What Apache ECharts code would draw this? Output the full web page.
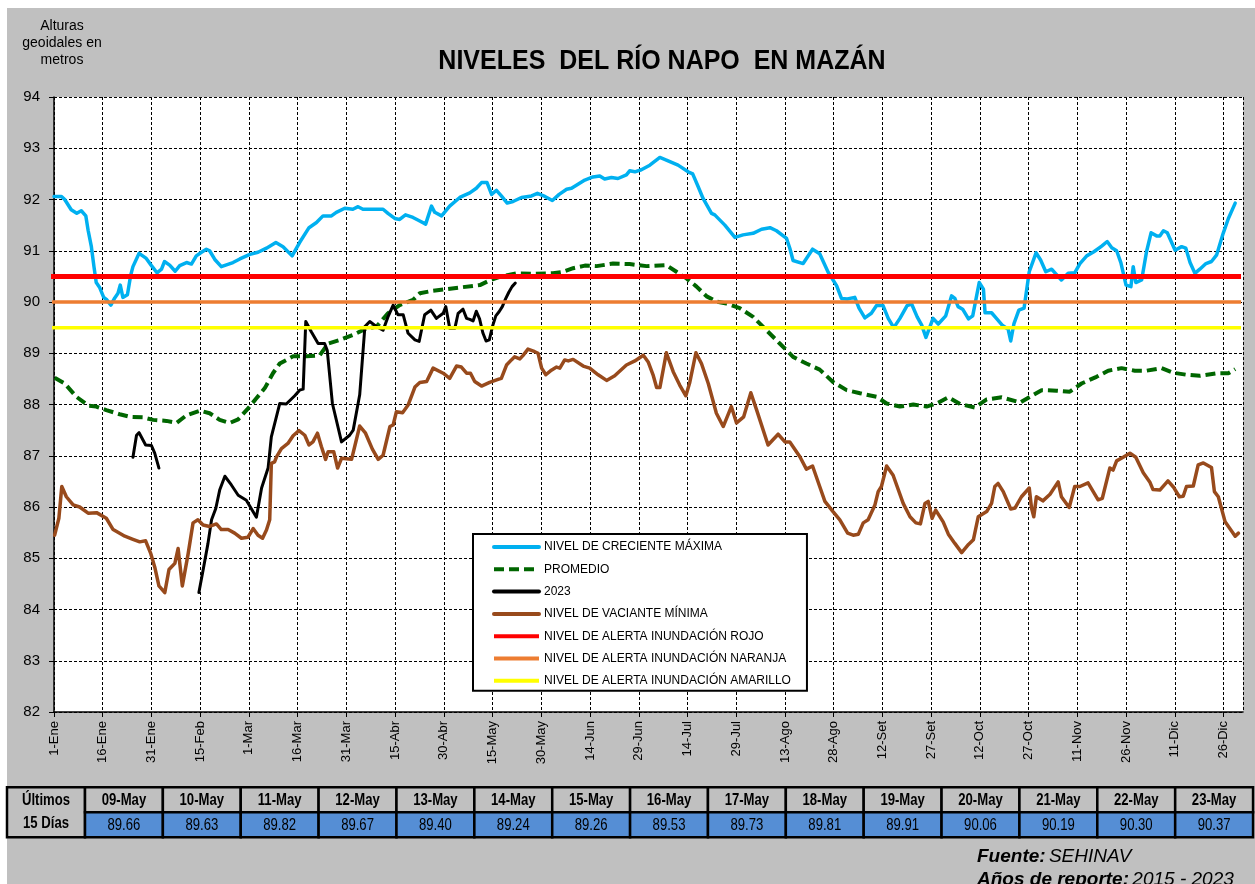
<!DOCTYPE html>
<html>
<head>
<meta charset="utf-8">
<script src="https://cdn.jsdelivr.net/npm/echarts@6/dist/echarts.min.js"></script>
<style>html,body{margin:0;padding:0;background:#fff}#c{width:1255px;height:884px}</style>
</head>
<body>
<div id="c"></div>
<script>
// ---------- DATA ----------
const tickLabels = ['1-Ene','16-Ene','31-Ene','15-Feb','1-Mar','16-Mar','31-Mar','15-Abr','30-Abr','15-May','30-May','14-Jun','29-Jun','14-Jul','29-Jul','13-Ago','28-Ago','12-Set','27-Set','12-Oct','27-Oct','11-Nov','26-Nov','11-Dic','26-Dic'];

const seriesNames = ['NIVEL DE CRECIENTE MÁXIMA','PROMEDIO','2023','NIVEL DE VACIANTE MÍNIMA','NIVEL DE ALERTA INUNDACIÓN ROJO','NIVEL DE ALERTA INUNDACIÓN NARANJA','NIVEL DE ALERTA INUNDACIÓN AMARILLO'];

// [day of year (0 = 1-Ene), level m]
const maxLevels = [[0,92.06],[2.3,92.06],[3.3,92.0],[5.3,91.8],[7,91.73],[8.4,91.78],[9.8,91.68],[10.5,91.4],[11.5,91.08],[12.3,90.69],[13,90.38],[14,90.29],[15.3,90.09],[16.3,90.04],[17.5,89.94],[18.7,90.08],[19.7,90.17],[20.4,90.33],[21.2,90.09],[22.6,90.14],[23.6,90.52],[24.3,90.69],[26.2,90.95],[28.4,90.85],[30,90.71],[31.7,90.57],[33.1,90.64],[34,90.79],[35.6,90.72],[37.3,90.6],[38.7,90.71],[40.8,90.77],[42.3,90.74],[43.8,90.9],[45.4,90.97],[46.9,91.03],[47.9,91.0],[49.5,90.83],[51.5,90.69],[55.1,90.77],[57.2,90.84],[60.3,90.93],[62.8,90.97],[65.4,91.05],[68.3,91.16],[70.5,91.08],[73.3,90.9],[75.6,91.16],[78.5,91.45],[80.8,91.55],[82.8,91.68],[85.4,91.68],[86.9,91.75],[89.5,91.83],[92,91.81],[93.6,91.86],[95.1,91.81],[101.3,91.81],[102.8,91.73],[104.9,91.63],[106.4,91.61],[108.2,91.7],[110.5,91.65],[112.6,91.58],[114.4,91.52],[116.2,91.87],[117.2,91.75],[119.3,91.68],[121.8,91.87],[124.9,92.04],[128,92.13],[130,92.22],[131.6,92.33],[133.3,92.33],[134.7,92.1],[136.2,92.18],[137.7,92.07],[139.5,91.93],[141.3,91.96],[143.9,92.04],[147,92.07],[148.8,92.12],[151.1,92.06],[153.4,91.98],[155.5,92.1],[157.8,92.2],[159.3,92.22],[160.8,92.28],[163.4,92.38],[165.9,92.44],[168,92.46],[169.5,92.4],[171.6,92.43],[173.6,92.41],[176.2,92.48],[177.2,92.56],[178.8,92.54],[180.8,92.58],[183.4,92.67],[186.5,92.82],[188.5,92.77],[192.1,92.67],[195.2,92.54],[196.6,92.5],[198.3,92.25],[199.8,92.02],[202.4,91.73],[203.4,91.7],[206.5,91.5],[209.6,91.26],[212.1,91.31],[215.2,91.34],[217.8,91.42],[220.4,91.45],[222.4,91.39],[225.5,91.24],[226.5,91.05],[227.5,90.81],[230.6,90.75],[233.5,91.03],[235.7,90.94],[238.3,90.58],[240.9,90.32],[242.4,90.07],[244.2,90.06],[246.5,90.09],[247.8,89.88],[249.6,89.69],[251.6,89.78],[253.2,89.93],[255.2,89.93],[256.8,89.68],[258.5,89.5],[260.4,89.68],[262.6,89.93],[264,89.96],[265.7,89.71],[267.1,89.55],[268.4,89.31],[270.6,89.68],[272.2,89.57],[274.5,89.73],[276.3,90.12],[277.3,90.07],[278.3,89.91],[279.7,89.86],[281.5,89.67],[282.8,89.73],[284.8,90.38],[286.1,90.25],[286.6,89.79],[288.6,89.79],[290.1,89.68],[292,89.54],[293.7,89.47],[294.5,89.24],[295.5,89.58],[297,89.84],[298.6,89.88],[300.2,90.59],[302.3,90.96],[303.7,90.82],[305.3,90.59],[307.1,90.64],[308.4,90.55],[310.1,90.43],[312.2,90.56],[314.2,90.57],[315.8,90.75],[317.9,90.9],[320.1,90.98],[322.5,91.09],[324.2,91.18],[325.6,91.06],[327.1,91.0],[328.4,90.77],[330,90.33],[331.5,90.3],[332.2,90.69],[333,90.38],[334.8,90.43],[336.3,90.98],[337.7,91.35],[339.4,91.29],[340.4,91.29],[341.5,91.39],[342.7,91.35],[345.1,91.01],[347.1,91.08],[348.4,91.05],[349.7,90.77],[351.2,90.56],[352.7,90.64],[354.6,90.75],[356.3,90.79],[357.9,90.92],[359.9,91.34],[361.5,91.63],[363.6,91.93]];

const avgLevels = [[0.2,88.52],[3.3,88.41],[6.9,88.15],[10.5,87.98],[13,87.96],[16.1,87.89],[20.2,87.81],[23.3,87.76],[27.4,87.75],[30.5,87.7],[34.6,87.68],[37.7,87.64],[40.8,87.79],[44.9,87.88],[47.9,87.83],[51,87.7],[54.1,87.64],[56.7,87.71],[59.7,87.92],[62.3,88.12],[64.9,88.32],[67.4,88.61],[69.5,88.8],[73.6,88.94],[77.7,88.94],[81.8,88.96],[84.4,89.19],[88,89.26],[92.1,89.36],[95.7,89.47],[99.3,89.52],[102.8,89.78],[106.4,89.94],[110.5,90.04],[112.6,90.17],[116.7,90.22],[120.8,90.25],[125.9,90.29],[131.1,90.33],[134.1,90.42],[137.2,90.49],[142.4,90.56],[147.5,90.55],[153.6,90.56],[156.7,90.59],[159.8,90.66],[163.4,90.71],[167,90.7],[172.1,90.75],[177.2,90.74],[182.4,90.7],[188.5,90.72],[191.6,90.59],[194.7,90.46],[197.8,90.3],[200.9,90.11],[203.9,90.01],[207,89.97],[211.1,89.88],[215.2,89.71],[219.3,89.45],[223.4,89.19],[227.5,88.93],[231.6,88.8],[235.7,88.68],[239.8,88.44],[244,88.28],[248.1,88.22],[253.2,88.15],[256.3,88.02],[260.4,87.96],[264.5,88.0],[268.6,87.96],[271.7,88.02],[275.3,88.14],[278.9,88.01],[283.5,87.94],[287.1,88.1],[291.7,88.14],[297.4,88.04],[300.4,88.15],[304,88.28],[308.6,88.27],[312.7,88.25],[316.3,88.41],[320.9,88.54],[324.5,88.66],[328.6,88.71],[332.7,88.66],[336.3,88.66],[340.9,88.71],[344.5,88.62],[348.6,88.58],[352.7,88.56],[357.9,88.61],[361.5,88.61],[363.6,88.69]];

const levels2023 = [[24.3,86.97],[25.4,87.40],[26.2,87.45],[28.2,87.21],[30,87.2],[31,87.05],[32.3,86.76],[38,'-'],[44.6,84.33],[45.9,84.77],[47.4,85.29],[48.5,85.75],[49.8,85.97],[51,86.33],[52.6,86.6],[54.6,86.43],[56.7,86.23],[59.2,86.13],[62.3,85.8],[63.9,86.37],[65.9,86.76],[66.9,87.37],[69.5,88.02],[71.5,88.01],[74.1,88.17],[75.6,88.28],[76.7,88.3],[77.5,89.62],[79.2,89.42],[81.3,89.19],[83.3,89.19],[84.1,89.06],[85.7,88.02],[88.5,87.27],[91,87.4],[92.1,87.5],[94.1,88.19],[95.7,89.52],[97.2,89.62],[99.3,89.52],[101.3,89.45],[102.8,89.71],[104.4,89.94],[105.9,89.75],[107.5,89.75],[109,89.39],[111.1,89.26],[112.4,89.23],[114.1,89.75],[116,89.84],[117.7,89.68],[119.8,89.78],[120.6,89.91],[121.8,89.49],[123.4,89.49],[124.4,89.78],[125.9,89.86],[127,89.68]];

const minLevels = [[0.2,85.45],[1.5,85.78],[2.4,86.4],[3.8,86.2],[5.9,86.04],[7.9,86.0],[10.5,85.88],[13.1,85.89],[16.1,85.78],[18.2,85.56],[21.8,85.43],[24.3,85.37],[26.4,85.32],[28.2,85.34],[29.8,85.09],[31,84.83],[32.3,84.46],[34.1,84.33],[35.4,84.78],[37.2,84.9],[38.2,85.19],[39.5,84.46],[41.3,85.09],[42.8,85.69],[44.3,85.75],[45.9,85.65],[47.9,85.62],[50,85.67],[51.5,85.56],[53.6,85.56],[55.6,85.49],[57.7,85.39],[59.7,85.41],[61.3,85.58],[62.8,85.45],[64.2,85.39],[65.4,85.55],[66.4,85.75],[66.9,86.85],[67.9,86.88],[68.5,86.98],[70,87.14],[72,87.24],[73.6,87.39],[75.4,87.49],[77.2,87.4],[78.5,87.21],[79.7,87.27],[81.1,87.44],[82.3,87.18],[83.6,86.93],[84.4,87.08],[86.1,87.08],[87.3,86.76],[88.5,86.95],[91.6,86.93],[94.1,87.58],[95.9,87.44],[98,87.13],[99.8,86.93],[101.3,87.01],[103.4,87.57],[104.4,87.6],[105.4,87.86],[107.3,87.84],[109,87.99],[111.1,88.34],[112.6,88.43],[114.7,88.45],[116.7,88.71],[119.8,88.61],[121.8,88.51],[123.9,88.75],[125.4,88.73],[127,88.61],[128.2,88.61],[129.5,88.45],[131.6,88.36],[134.1,88.43],[136.7,88.49],[137.7,88.51],[139.3,88.77],[140.8,88.87],[141.8,88.93],[143.4,88.89],[144.4,88.96],[145.9,89.08],[148,89.03],[149,89.0],[150.1,88.71],[151.4,88.58],[153.1,88.67],[154.7,88.73],[155.7,88.71],[157.2,88.87],[158.3,88.85],[159.8,88.88],[162.9,88.75],[164.9,88.71],[167.5,88.58],[170.1,88.47],[172.6,88.56],[176.2,88.77],[178.8,88.85],[181.4,88.96],[182.9,88.83],[184.4,88.58],[185.5,88.33],[186.5,88.33],[188.5,89.01],[190.6,88.64],[192.6,88.38],[194.5,88.17],[195.7,88.43],[197.6,89.01],[199.3,88.8],[201.4,88.41],[203.9,87.83],[206,87.57],[208.5,87.96],[210.1,87.64],[212.3,87.76],[214.5,88.23],[216.3,87.89],[219.8,87.21],[222.9,87.42],[225,87.27],[226.5,87.27],[229.6,86.98],[231.6,86.74],[233.5,86.8],[235.7,86.4],[237.3,86.11],[239.8,85.91],[241.9,85.75],[244.3,85.49],[246,85.45],[247.6,85.47],[249.1,85.69],[250.6,85.75],[252.7,86.04],[253.7,86.3],[254.7,86.4],[256.3,86.8],[258.3,86.62],[261.4,86.07],[263.5,85.81],[265.3,85.69],[266.7,85.67],[268.1,86.07],[269.1,86.11],[270.3,85.78],[271.4,85.94],[273.7,85.71],[275.3,85.47],[277.3,85.29],[279.4,85.11],[281.5,85.27],[283,85.36],[284.5,85.81],[287.1,85.91],[288.6,86.07],[289.6,86.4],[290.6,86.46],[292.2,86.3],[294.5,85.96],[295.8,85.98],[297.8,86.2],[300.2,86.37],[300.9,85.98],[301.6,85.81],[302.4,86.2],[304.4,86.12],[306.6,86.25],[309.1,86.49],[310.1,86.2],[312.5,85.99],[314.2,86.4],[315.8,86.4],[318.3,86.47],[321.4,86.14],[322.7,86.17],[325,86.76],[326,86.72],[327.1,86.9],[329.1,86.97],[331.2,87.05],[333,86.97],[335.3,86.67],[337.3,86.49],[338.3,86.34],[340.4,86.33],[342.9,86.51],[344.7,86.38],[346.4,86.2],[347.6,86.21],[348.6,86.4],[350.7,86.41],[352.2,86.82],[353.8,86.86],[356.3,86.77],[357.2,86.3],[358.4,86.2],[360.5,85.71],[363.6,85.43],[364.6,85.49]];

const alertLevels = [90.5, 90.0, 89.5];
const alertSpan = [-2, 365.4];

const tableDates = ['09-May','10-May','11-May','12-May','13-May','14-May','15-May','16-May','17-May','18-May','19-May','20-May','21-May','22-May','23-May'];
const tableValues = [89.66,89.63,89.82,89.67,89.40,89.24,89.26,89.53,89.73,89.81,89.91,90.06,90.19,90.30,90.37];
const tableFirstDay = 128; // day index of 09-May in the plotted series

// ---------- BUILD ----------
const full2023 = levels2023.concat(tableValues.map((v, i) => [tableFirstDay + i, v]));

const FONT = '"Liberation Sans", Arial, sans-serif';
const colors = ['#00b0f0', '#006600', '#000000', '#984a1c', '#ff0000', '#ed7d31', '#ffff00'];
const widths = [3.5, 4, 3, 3.5, 5, 3.5, 3.5];

function lineSeries(i, data, extra) {
  return Object.assign({
    name: seriesNames[i], type: 'line', data: data, symbol: 'none', showSymbol: false,
    smooth: false, connectNulls: false,
    lineStyle: { color: colors[i], width: widths[i], type: 'solid', cap: 'round', join: 'round' },
    itemStyle: { color: colors[i] },
    emphasis: { disabled: true }
  }, extra || {});
}

const series = [
  lineSeries(0, maxLevels),
  lineSeries(1, avgLevels, { lineStyle: { color: colors[1], width: widths[1], type: [10, 5], cap: 'butt' } }),
  lineSeries(2, full2023),
  lineSeries(3, minLevels)
];
alertLevels.forEach((lv, k) => {
  series.push(lineSeries(4 + k, alertSpan.map(d => [d, lv]), { clip: false, lineStyle: { color: colors[4 + k], width: widths[4 + k], type: 'solid', cap: 'butt' } }));
});

// table graphics
const graphics = [
  { type: 'rect', shape: { x: 0, y: 0, width: 1255, height: 8 }, style: { fill: '#fff' }, silent: true },
  { type: 'rect', shape: { x: 0, y: 0, width: 7, height: 884 }, style: { fill: '#fff' }, silent: true },
  { type: 'text', x: 662, y: 62, scaleY: 1.08, style: { text: 'NIVELES  DEL RÍO NAPO  EN MAZÁN', font: 'bold 25px ' + FONT, fill: '#000', align: 'center', verticalAlign: 'middle' } },
  { type: 'text', x: 62, y: 43, style: { text: 'Alturas\ngeoidales en\nmetros', font: '14px ' + FONT, lineHeight: 17, fill: '#000', align: 'center', verticalAlign: 'middle' } }
];
const tX0 = 85, colW = 77.87, rTop = 787.3, rMid = 812.3, rBot = 837.3;
graphics.push({ type: 'rect', shape: { x: 7, y: rTop, width: tX0 - 7, height: rBot - rTop }, style: { fill: '#c0c0c0', stroke: '#000', lineWidth: 2.5 } });
graphics.push({ type: 'text', x: 46, y: 801, scaleX: 0.82, style: { text: 'Últimos', font: 'bold 16px ' + FONT, fill: '#000', align: 'center', verticalAlign: 'middle' } });
graphics.push({ type: 'text', x: 46, y: 824, scaleX: 0.82, style: { text: '15 Días', font: 'bold 16px ' + FONT, fill: '#000', align: 'center', verticalAlign: 'middle' } });
tableDates.forEach((d, i) => {
  const x = tX0 + i * colW;
  graphics.push({ type: 'rect', shape: { x: x, y: rTop, width: colW, height: rMid - rTop }, style: { fill: '#c0c0c0', stroke: '#000', lineWidth: 2.5 } });
  graphics.push({ type: 'rect', shape: { x: x, y: rMid, width: colW, height: rBot - rMid }, style: { fill: '#558ed5', stroke: '#000', lineWidth: 2.5 } });
  graphics.push({ type: 'text', x: x + colW / 2, y: (rTop + rMid) / 2 + 1, scaleX: 0.82, style: { text: d, font: 'bold 16px ' + FONT, fill: '#000', align: 'center', verticalAlign: 'middle' } });
  graphics.push({ type: 'text', x: x + colW / 2, y: (rMid + rBot) / 2 + 1, scaleX: 0.82, style: { text: tableValues[i].toFixed(2), font: '16px ' + FONT, fill: '#000', align: 'center', verticalAlign: 'middle' } });
});
graphics.push({ type: 'text', x: 977, y: 857, style: { text: '{b|Fuente:} {i|SEHINAV}', align: 'left', verticalAlign: 'middle', rich: { b: { font: 'italic bold 19px ' + FONT, fill: '#000' }, i: { font: 'italic 19px ' + FONT, fill: '#000' } } } });
graphics.push({ type: 'text', x: 977, y: 880, style: { text: '{b|Años de reporte:} {i|2015 - 2023}', align: 'left', verticalAlign: 'middle', rich: { b: { font: 'italic bold 19px ' + FONT, fill: '#000' }, i: { font: 'italic 19px ' + FONT, fill: '#000' } } } });

const gridLine = { show: true, lineStyle: { color: '#000', type: [3, 2], width: 1 } };

const option = {
  animation: false,
  backgroundColor: '#c0c0c0',
  textStyle: { fontFamily: FONT },
  grid: { left: 54, top: 97, width: 1189, height: 615, show: true, backgroundColor: '#fff', borderWidth: 0, containLabel: false, outerBoundsMode: 'none' },
  xAxis: {
    type: 'value', min: 0, max: 366, interval: 15,
    axisLine: { show: true, onZero: false, lineStyle: { color: '#000', width: 1.5 } },
    axisTick: { show: true, length: 5, lineStyle: { color: '#000' } },
    axisLabel: {
      rotate: 90, fontSize: 13, color: '#000', margin: 9, fontFamily: FONT,
      showMaxLabel: false,
      formatter: v => (v % 15 === 0 && tickLabels[v / 15] !== undefined) ? tickLabels[v / 15] : ''
    },
    splitLine: gridLine
  },
  yAxis: {
    type: 'value', min: 82, max: 94, interval: 1,
    axisLine: { show: true, onZero: false, lineStyle: { color: '#000', width: 1.5 } },
    axisTick: { show: true, length: 5, lineStyle: { color: '#000' } },
    axisLabel: { fontSize: 15, color: '#000', margin: 14, fontFamily: FONT },
    splitLine: gridLine
  },
  legend: {
    data: seriesNames, orient: 'vertical', left: 473, top: 534,
    padding: [7, 16, 4, 19], itemWidth: 45, itemHeight: 14, itemGap: 10.3,
    backgroundColor: '#fff', borderColor: '#000', borderWidth: 2, borderRadius: 0,
    selectedMode: false,
    itemStyle: { opacity: 0, borderWidth: 0 },
    lineStyle: { width: 4 },
    textStyle: { fontSize: 12, color: '#000', fontFamily: FONT }
  },
  series: series,
  graphic: graphics
};

const chart = echarts.init(document.getElementById('c'), null, { renderer: 'canvas' });
chart.setOption(option);
</script>
</body>
</html>
